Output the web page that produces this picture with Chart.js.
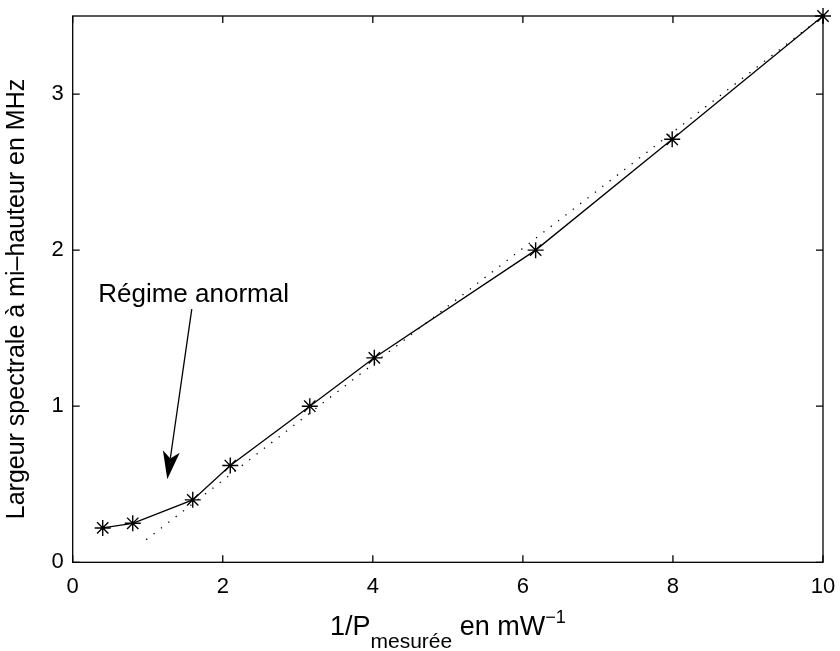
<!DOCTYPE html>
<html>
<head>
<meta charset="utf-8">
<script src="https://cdn.jsdelivr.net/npm/chart.js@4.4.1/dist/chart.umd.min.js"></script>
<style>
  html, body { margin: 0; background: #fff; }
  canvas { display: block; }
</style>
</head>
<body>
<canvas id="chart" width="840" height="651"></canvas>
<script>
// measured points: 1/P (mW^-1) vs linewidth (MHz)
const invPower = [0.4, 0.8, 1.6, 2.1, 3.16, 4.02, 6.17, 7.99, 10];
const linewidth = [0.22, 0.25, 0.40, 0.62, 1.00, 1.31, 2.00, 2.71, 3.50];
// dotted linear fit
const fitX = [0.98, 10];
const fitY = [0.145, 3.5];
// tick labels
const xTicks = [0, 2, 4, 6, 8, 10];
const yTicks = [0, 1, 2, 3];
// annotation (data coords)
const noteText = 'Régime anormal';
const noteAt = [0.34, 1.67];
const arrowFrom = [1.587, 1.622];
const arrowTo = [1.261, 0.532];

const FONT = '"Liberation Sans", Arial, Helvetica, sans-serif';

const pts = invPower.map((x, i) => ({x: x, y: linewidth[i]}));
const fitPts = fitX.map((x, i) => ({x: x, y: fitY[i]}));

function noPad(s){ s.paddingTop = 0; s.paddingBottom = 0; s.paddingLeft = 0; s.paddingRight = 0; }

// box with inward ticks, axis titles, annotation
const decor = {
  id: 'decor',
  afterDraw(chart){
    const ctx = chart.ctx;
    const a = chart.chartArea;
    const sx = chart.scales.x, sy = chart.scales.y;
    ctx.save();
    ctx.strokeStyle = '#000';
    ctx.fillStyle = '#000';
    ctx.lineWidth = 1.3;
    ctx.strokeRect(a.left, a.top, a.right - a.left, a.bottom - a.top);
    ctx.beginPath();
    xTicks.forEach(v=>{
      const px = sx.getPixelForValue(v);
      ctx.moveTo(px, a.bottom); ctx.lineTo(px, a.bottom - 7);
      ctx.moveTo(px, a.top); ctx.lineTo(px, a.top + 7);
    });
    yTicks.forEach(v=>{
      const py = sy.getPixelForValue(v);
      ctx.moveTo(a.left, py); ctx.lineTo(a.left + 7, py);
      ctx.moveTo(a.right, py); ctx.lineTo(a.right - 7, py);
    });
    ctx.stroke();

    // x title: 1/P_mesurée en mW^-1
    const parts = [
      {t: '1/P', f: 27, dy: 0},
      {t: 'mesurée', f: 21, dy: 13},
      {t: ' en mW', f: 27, dy: 0},
      {t: '\u22121', f: 18, dy: -12}
    ];
    let total = 0;
    parts.forEach(p=>{ ctx.font = p.f + 'px ' + FONT; p.w = ctx.measureText(p.t).width; total += p.w; });
    let cx = (a.left + a.right) / 2 - total / 2;
    ctx.textBaseline = 'alphabetic';
    ctx.textAlign = 'left';
    parts.forEach(p=>{
      ctx.font = p.f + 'px ' + FONT;
      ctx.fillText(p.t, cx, 635 + p.dy);
      cx += p.w;
    });

    // y title
    ctx.save();
    ctx.translate(23.5, 299);
    ctx.rotate(-Math.PI / 2);
    ctx.font = '25px ' + FONT;
    ctx.textAlign = 'center';
    ctx.fillText('Largeur spectrale à mi\u2013hauteur en MHz', 0, 0);
    ctx.restore();

    // annotation text
    ctx.font = '26px ' + FONT;
    ctx.textAlign = 'left';
    ctx.fillText(noteText, sx.getPixelForValue(noteAt[0]), sy.getPixelForValue(noteAt[1]));

    // arrow
    const x0 = sx.getPixelForValue(arrowFrom[0]), y0 = sy.getPixelForValue(arrowFrom[1]);
    const x1 = sx.getPixelForValue(arrowTo[0]), y1 = sy.getPixelForValue(arrowTo[1]);
    const len = Math.hypot(x1 - x0, y1 - y0);
    const ux = (x1 - x0) / len, uy = (y1 - y0) / len;
    const nx = -uy, ny = ux;
    const hl = 28, hw = 8.5, notch = 7;
    ctx.lineWidth = 1.3;
    ctx.beginPath();
    ctx.moveTo(x0, y0);
    ctx.lineTo(x1 - ux * (hl - notch), y1 - uy * (hl - notch));
    ctx.stroke();
    ctx.beginPath();
    ctx.moveTo(x1, y1);
    ctx.lineTo(x1 - ux * hl + nx * hw, y1 - uy * hl + ny * hw);
    ctx.lineTo(x1 - ux * (hl - notch), y1 - uy * (hl - notch));
    ctx.lineTo(x1 - ux * hl - nx * hw, y1 - uy * hl - ny * hw);
    ctx.closePath();
    ctx.fill();
    ctx.restore();
  }
};

new Chart(document.getElementById('chart').getContext('2d'), {
  type: 'scatter',
  data: {
    datasets: [
      {
        data: fitPts,
        showLine: true,
        borderColor: '#000',
        borderWidth: 1.3,
        borderDash: [1.3, 8],
        pointRadius: 0,
        clip: false
      },
      {
        data: pts,
        showLine: true,
        borderColor: '#000',
        borderWidth: 1.3,
        pointStyle: 'star',
        pointRadius: 8,
        pointBorderWidth: 1.4,
        pointBorderColor: '#000',
        pointBackgroundColor: '#000',
        clip: false
      }
    ]
  },
  options: {
    responsive: false,
    animation: false,
    events: [],
    layout: { padding: { top: 16, right: 17, left: 0, bottom: 0 } },
    plugins: { legend: { display: false }, tooltip: { enabled: false } },
    scales: {
      x: {
        type: 'linear',
        min: 0, max: 10,
        afterBuildTicks: s => { s.ticks = xTicks.map(v => ({value: v})); },
        afterFit: s => { s.height = 88.7; noPad(s); },
        grid: { display: false, drawTicks: false },
        border: { display: false },
        ticks: { color: '#000', font: { family: FONT, size: 22 }, padding: 11, maxRotation: 0 }
      },
      y: {
        type: 'linear',
        min: 0, max: 3.5,
        afterBuildTicks: s => { s.ticks = yTicks.map(v => ({value: v})); },
        afterFit: s => { s.width = 72.7; noPad(s); },
        grid: { display: false, drawTicks: false },
        border: { display: false },
        ticks: { color: '#000', font: { family: FONT, size: 22 }, padding: 9 }
      }
    }
  },
  plugins: [decor]
});
</script>
</body>
</html>
